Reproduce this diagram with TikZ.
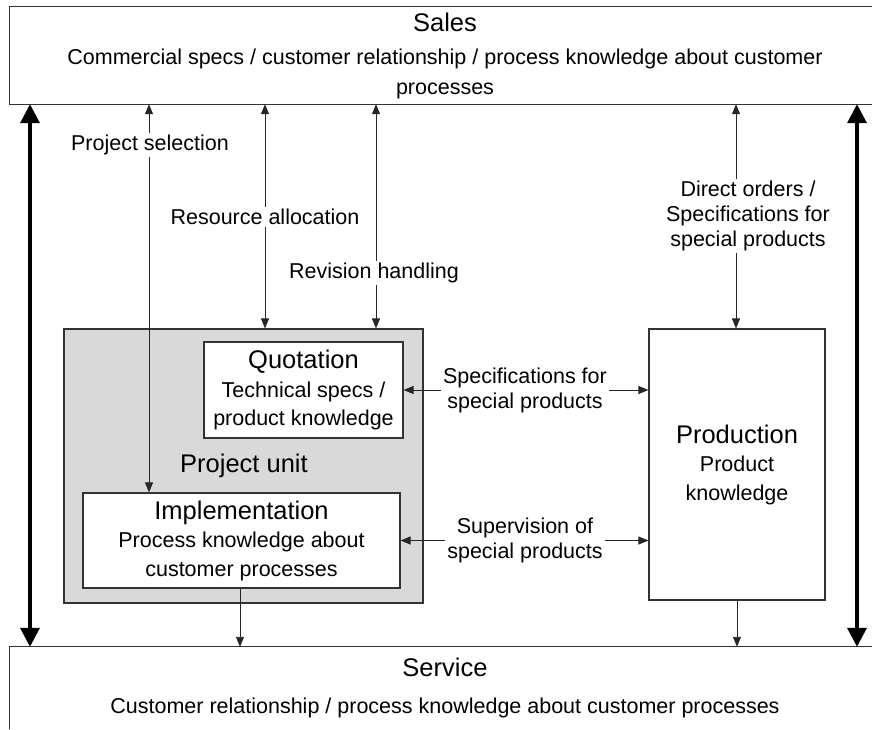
\documentclass[tikz,border=0pt]{standalone}
\usepackage{fontspec}
\setmainfont{Liberation Sans}
\usetikzlibrary{arrows.meta}
\begin{document}
\begin{tikzpicture}[x=1pt,y=-1pt,
  frame/.style={draw=black!80, line width=1.1pt},
  area/.style={rectangle, inner sep=0pt, align=center, font=\fontsize{21.5}{28.5}\selectfont},
  ttl/.style={font=\fontsize{25.5}{28.5}\selectfont},
  conn/.style={draw=black!85, line width=0.9pt},
  both/.style={conn, {Triangle[length=10pt,width=8pt]}-{Triangle[length=10pt,width=8pt]}},
  down/.style={conn, -{Triangle[length=10pt,width=8pt]}},
  heavy/.style={line width=3.6pt, {Triangle[length=19pt,width=19pt]}-{Triangle[length=19pt,width=19pt]}},
  lbl/.style={fill=white, inner sep=2pt, align=center, font=\fontsize{21.5}{25}\selectfont}
]
\useasboundingbox (0,0) rectangle (872,729);
\coordinate (redge) at (872,0);
\coordinate (bedge) at (0,729);

% Sales
\node (sales) [area, minimum width=870pt, minimum height=97pt, font=\fontsize{21.5}{30}\selectfont] at (445,55.5)
  {{\fontsize{25.5}{30}\selectfont Sales}\\[3pt]
   Commercial specs / customer relationship / process knowledge about customer\\
   processes};
\draw[frame] (sales.north west -| redge) -- (sales.north west) -- (sales.south west) -- (sales.south west -| redge);

% Service
\node (service) [area, minimum width=870pt, minimum height=81.5pt, font=\fontsize{21.5}{30}\selectfont] at (445,687.75)
  {{\fontsize{25.5}{30}\selectfont Service}\\[7pt]
   Customer relationship / process knowledge about customer processes};
\draw[frame] (service.north west -| redge) -- (service.north west) -- (service.north west |- bedge);

% Project unit
\node (pu) [frame, fill=black!15, rectangle, inner sep=0pt, minimum width=359pt, minimum height=274pt] at (243.5,466) {};
\node (pulabel) [ttl] at (244,466) {Project unit};

% Quotation
\node (quot) [frame, fill=white, area, minimum width=199pt, minimum height=96pt] at (303.5,390)
  {{\fontsize{25.5}{28.5}\selectfont Quotation}\\Technical specs /\\product knowledge};

% Implementation
\node (impl) [frame, fill=white, area, minimum width=317pt, minimum height=95pt] at (241.5,540.5)
  {{\fontsize{25.5}{28.5}\selectfont Implementation}\\Process knowledge about\\customer processes};

% Production
\node (prod) [frame, fill=white, area, minimum width=176pt, minimum height=271pt] at (737,464.5)
  {{\fontsize{25.5}{28.5}\selectfont Production}\\Product\\knowledge};

% Heavy side arrows
\coordinate (hl) at (30,0);
\coordinate (hr) at (857,0);
\draw[heavy] (hl |- sales.south) -- (hl |- service.north);
\draw[heavy] (hr |- sales.south) -- (hr |- service.north);

% Vertical connectors from Sales
\coordinate (xps) at (149,0);
\coordinate (xra) at (265,0);
\coordinate (xrh) at (376,0);
\coordinate (xdo) at (736,0);
\draw[both] (xps |- sales.south) -- (xps |- impl.north);
\draw[both] (xra |- sales.south) -- (xra |- pu.north);
\draw[both] (xrh |- sales.south) -- (xrh |- pu.north);
\draw[both] (xdo |- sales.south) -- (xdo |- prod.north);

\node (lps) [lbl] at (150,145) {Project selection};
\node (lra) [lbl] at (265,217) {Resource allocation};
\node (lrh) [lbl] at (374,273) {Revision handling};
\node (ldo) [lbl] at (748,216) {Direct orders /\\Specifications for\\special products};

% Horizontal connectors
\draw[both] (quot.east) -- (quot.east -| prod.west);
\draw[both] (impl.east) -- (impl.east -| prod.west);
\node (lsp) [lbl] at (525,390) {Specifications for\\special products};
\node (lsu) [lbl] at (525,540) {Supervision of\\special products};

% Down to Service
\coordinate (xid) at (240,0);
\coordinate (xpd) at (737,0);
\draw[down] (xid |- impl.south) -- (xid |- service.north);
\draw[down] (xpd |- prod.south) -- (xpd |- service.north);
\end{tikzpicture}
\end{document}
